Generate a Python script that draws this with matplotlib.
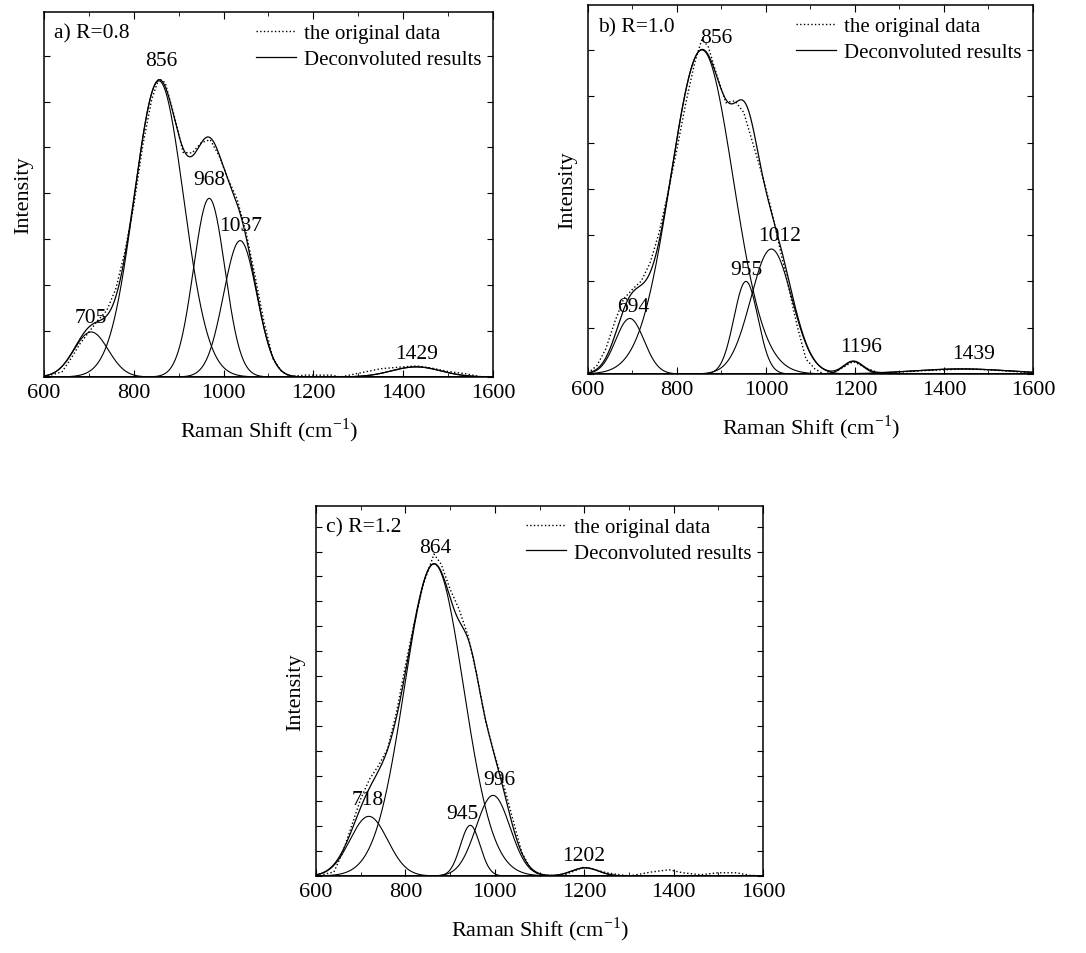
import numpy as np
import matplotlib
matplotlib.use("Agg")
import matplotlib.pyplot as plt
from matplotlib.ticker import MultipleLocator, NullFormatter

plt.rcParams['font.family'] = ['Liberation Serif', 'DejaVu Serif']
plt.rcParams['mathtext.fontset'] = 'custom'
plt.rcParams['mathtext.rm'] = 'Liberation Serif'
plt.rcParams['font.size'] = 15

# Panel a) R=0.8 : fitted peaks (centre, height, sigma)
a_centers = [705, 856, 968, 1037, 1429]
a_heights = [0.98, 6.45, 3.89, 2.97, 0.22]
a_sigmas = [38, 55, 35, 37, 55]
# original spectrum
a_raw_x = [600, 640, 660, 680, 700, 720, 740, 760, 780, 800, 820, 840, 856, 870,
           890, 910, 930, 950, 970, 990, 1010, 1030, 1050, 1070, 1090, 1110, 1130,
           1150, 1180, 1200, 1240, 1260, 1350, 1400, 1430, 1460, 1500, 1540, 1570, 1600]
a_raw_y = [0.0, 0.11, 0.40, 0.72, 0.98, 1.23, 1.45, 1.92, 2.72, 3.73, 5.04, 6.05, 6.50, 6.41,
           5.69, 4.89, 4.88, 5.10, 5.17, 4.82, 4.31, 3.88, 3.15, 2.21, 1.20, 0.40, 0.11,
           0.01, 0.04, 0.04, 0.04, 0.0, 0.18, 0.22, 0.24, 0.20, 0.12, 0.07, 0.01, 0.0]

# Panel b) R=1.0
b_centers = [694, 856, 955, 1012, 1196, 1439]
b_heights = [1.2, 7.0, 2.0, 2.7, 0.27, 0.11]
b_sigmas = [32, 70, 27, 46, 22, 110]
b_raw_x = [600, 620, 640, 660, 680, 700, 720, 740, 760, 780, 800, 820, 840, 856,
           870, 890, 910, 930, 950, 970, 990, 1010, 1030, 1050, 1070, 1090, 1110,
           1130, 1160, 1196, 1230, 1260, 1300, 1350, 1400, 1450, 1500, 1550, 1600]
b_raw_y = [0.02, 0.18, 0.54, 1.12, 1.62, 1.83, 2.01, 2.41, 3.06, 3.92, 4.86, 5.86, 6.73, 7.23,
           7.08, 6.44, 5.86, 5.90, 5.65, 5.00, 4.35, 3.63, 2.77, 1.91, 1.04, 0.32, 0.11,
           0.0, 0.07, 0.27, 0.11, 0.0, 0.04, 0.07, 0.09, 0.11, 0.09, 0.06, 0.02]

# Panel c) R=1.2
c_centers = [718, 864, 945, 996, 1202]
c_heights = [2.39, 12.5, 2.03, 3.23, 0.33]
c_sigmas = [42, 66, 22, 38, 30]
c_raw_x = [600, 640, 660, 680, 700, 720, 740, 760, 780, 800, 820, 840, 864, 880,
           900, 920, 940, 960, 980, 1000, 1020, 1040, 1060, 1080, 1100, 1150, 1200,
           1250, 1300, 1350, 1390, 1420, 1460, 1500, 1540, 1570, 1600]
c_raw_y = [0.0, 0.16, 0.96, 2.03, 3.09, 3.89, 4.43, 5.09, 6.56, 8.43, 10.16, 11.69, 12.9, 12.49,
           11.49, 10.69, 9.63, 8.03, 6.16, 4.83, 3.63, 2.29, 0.96, 0.29, 0.05, 0.0, 0.36,
           0.13, 0.0, 0.16, 0.25, 0.13, 0.05, 0.13, 0.13, 0.03, 0.0]

panels = [
    dict(title="a) R=0.8", centers=a_centers, heights=a_heights, sigmas=a_sigmas,
         raw_x=a_raw_x, raw_y=a_raw_y, ymax=7.95,
         rect=[0.0405, 0.6038, 0.4134, 0.3826],
         offsets=[(0, 14), (2, 20), (0, 19), (0, 15), (0, 13)]),
    dict(title="b) R=1.0", centers=b_centers, heights=b_heights, sigmas=b_sigmas,
         raw_x=b_raw_x, raw_y=b_raw_y, ymax=7.97,
         rect=[0.5414, 0.6069, 0.4098, 0.3868],
         offsets=[(3, 12), (14, 12), (0, 12), (8, 14), (8, 15), (12, 15)]),
    dict(title="c) R=1.2", centers=c_centers, heights=c_heights, sigmas=c_sigmas,
         raw_x=c_raw_x, raw_y=c_raw_y, ymax=14.83,
         rect=[0.291, 0.0807, 0.4116, 0.388],
         offsets=[(-1, 17), (1, 17), (-8, 12), (6, 16), (-1, 12)]),
]

x = np.linspace(600, 1600, 2001)

def gauss(x, c, h, s):
    return h * np.exp(-(x - c) ** 2 / (2 * s ** 2))

fig = plt.figure(figsize=(10.86, 9.54), dpi=100)

for p in panels:
    ax = fig.add_axes(p["rect"])
    total = np.zeros_like(x)
    for c, h, s in zip(p["centers"], p["heights"], p["sigmas"]):
        y = gauss(x, c, h, s)
        total += y
        ax.plot(x, y, color='black', lw=0.8)
    ax.plot(p["raw_x"], p["raw_y"], color='black', lw=1.0, ls=':', label="the original data")
    ax.plot(x, total, color='black', lw=0.9, label="Deconvoluted results")

    for c, h, off in zip(p["centers"], p["heights"], p["offsets"]):
        ax.annotate(str(c), xy=(c, h), xytext=off, textcoords='offset pixels',
                    ha='center', va='center', fontsize=15.5)

    ax.text(0.022, 0.942, p["title"], transform=ax.transAxes, ha='left', va='center', fontsize=15.5)

    ax.set_xlim(600, 1600)
    ax.set_ylim(0, p["ymax"])
    ax.xaxis.set_major_locator(MultipleLocator(200))
    ax.xaxis.set_minor_locator(MultipleLocator(100))
    ax.yaxis.set_major_locator(MultipleLocator(1))
    ax.yaxis.set_major_formatter(NullFormatter())
    ax.tick_params(axis='both', which='both', direction='in', top=True, right=True)
    ax.tick_params(axis='x', which='major', length=5, labelsize=16, pad=4)
    ax.tick_params(axis='x', which='minor', length=3)
    ax.tick_params(axis='y', which='major', length=4)
    for sp in ax.spines.values():
        sp.set_linewidth(1.1)

    ax.set_xlabel("Raman Shift (cm$^{\\mathregular{-1}}$)", fontsize=16, labelpad=10)
    ax.set_ylabel("Intensity", fontsize=16, labelpad=4)

    ax.legend(loc='upper right', bbox_to_anchor=(1.0, 1.0), frameon=False, fontsize=15,
              handlelength=1.9, handletextpad=0.4, labelspacing=0.3,
              borderaxespad=0.35, borderpad=0.2)

fig.savefig("out.png", dpi=100)
